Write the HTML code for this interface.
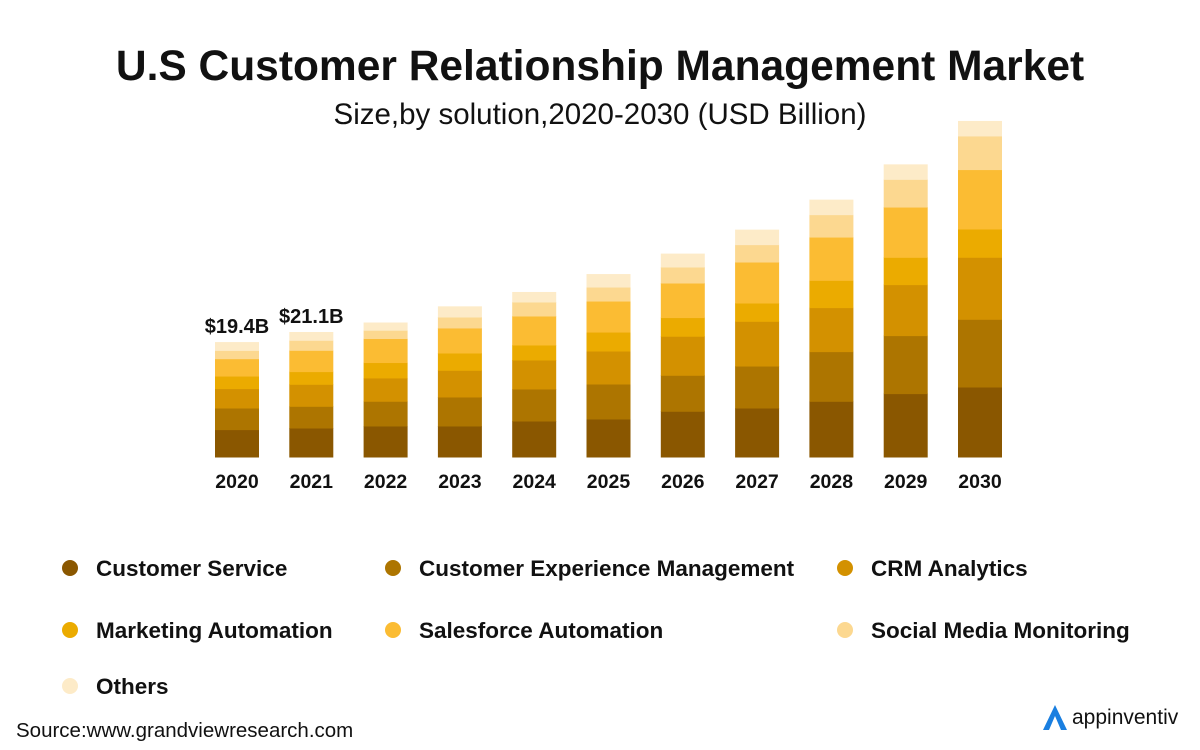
<!DOCTYPE html>
<html><head><meta charset="utf-8"><style>
body{margin:0;background:#fff;font-family:"Liberation Sans",sans-serif;}
#wrap{position:relative;width:1200px;height:750px;overflow:hidden;}
.t{position:absolute;white-space:nowrap;color:#111;}
</style></head><body>
<div id="wrap">
<div class="t" style="left:0;width:1200px;text-align:center;top:43px;font-size:42.5px;font-weight:bold;">U.S Customer Relationship Management Market</div>
<div class="t" style="left:0;width:1200px;text-align:center;top:98px;font-size:29.5px;">Size,by solution,2020-2030 (USD Billion)</div>
<svg id="chart" width="1200" height="750" style="position:absolute;left:0;top:0"></svg>
<div class="t" style="left:16px;top:719px;font-size:20.5px;">Source:www.grandviewresearch.com</div>
<div style="position:absolute;left:1040px;top:702px;">
<svg width="30" height="30" style="position:absolute;left:0;top:0"><path d="M3 28 L15 3 L27 28 L21 28 L15 14 L9 28 Z" fill="#1a7fe0"/></svg>
<span class="t" style="left:32px;top:4px;font-size:21px;">appinventiv</span></div>
</div>
<script>
const years=["2020","2021","2022","2023","2024","2025","2026","2027","2028","2029","2030"];
const seriesNames=["Customer Service","Customer Experience Management","CRM Analytics","Marketing Automation","Salesforce Automation","Social Media Monitoring","Others"];
const customerService=[4.62,4.89,5.23,5.23,6.07,6.41,7.71,8.26,9.39,10.69,11.80];
const customerExperience=[3.64,3.66,4.17,4.89,5.40,5.90,6.07,7.08,8.38,9.78,11.42];
const crmAnalytics=[3.27,3.71,3.93,4.50,4.89,5.56,6.58,7.54,7.42,8.60,10.46];
const marketingAutomation=[2.12,2.14,2.60,2.92,2.53,3.20,3.15,3.09,4.60,4.60,4.77];
const salesforceAutomation=[2.93,3.59,4.05,4.22,4.89,5.23,5.83,6.91,7.30,8.48,10.02];
const socialMedia=[1.40,1.69,1.40,1.85,2.36,2.36,2.70,2.93,3.78,4.67,5.67];
const others=[1.40,1.40,1.30,1.80,1.69,2.19,2.26,2.53,2.53,2.53,2.53];
const valueLabels=["$19.4B","$21.1B"];
const colors=["#8a5700","#ad7500","#d39100","#ebab00","#fbbc33","#fcd890","#fdebc8"];
const series=[customerService,customerExperience,crmAnalytics,marketingAutomation,salesforceAutomation,socialMedia,others];
const NS="http://www.w3.org/2000/svg";
const svg=document.getElementById('chart');
const base=457, scale=5.93, x0=237, step=74.3, bw=44;
const xPos=i=>x0+i*step;
const yLen=v=>v*scale;
function mk(tag,attrs){const e=document.createElementNS(NS,tag);for(const k in attrs)e.setAttribute(k,attrs[k]);svg.appendChild(e);return e;}
years.forEach((yr,i)=>{
  let y=base;
  series.forEach((s,j)=>{
    const h=yLen(s[i]);y-=h;
    const r=mk('rect',{x:xPos(i)-bw/2,y:y,width:bw,height:h+0.5,fill:colors[j]});
    
    
  });
  const t=mk('text',{x:xPos(i),y:488,'text-anchor':'middle','font-size':19.5,'font-weight':'bold',fill:'#111','font-family':'Liberation Sans'});
  t.textContent=yr;
  
  
  if(i<valueLabels.length){
    const v=mk('text',{x:xPos(i),y:y-9,'text-anchor':'middle','font-size':20,'font-weight':'bold',fill:'#111','font-family':'Liberation Sans'});
    v.textContent=valueLabels[i];
    
    
  }
});
const legX=[70,393,845],legY=[568,630,686];
seriesNames.forEach((n,j)=>{
  const cx=legX[j%3],cy=legY[Math.floor(j/3)];
  const c=mk('circle',{cx:cx,cy:cy,r:8,fill:colors[j]});
  
  
  const t=mk('text',{x:cx+26,y:cy+8,'font-size':22.5,'font-weight':'bold',fill:'#111','font-family':'Liberation Sans'});
  t.textContent=n;
  
  
});
</script>
</body></html>
